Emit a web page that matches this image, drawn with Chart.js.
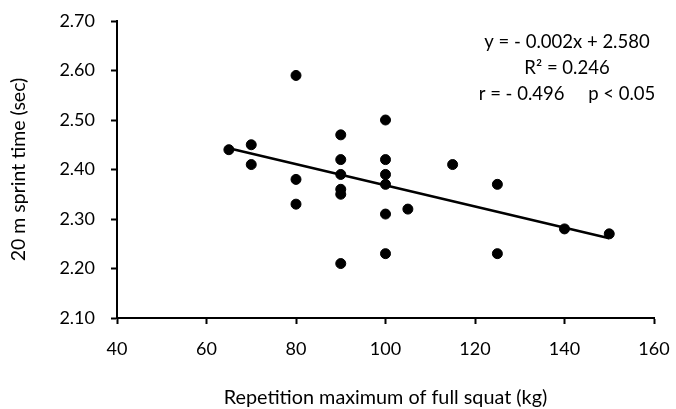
<!DOCTYPE html>
<html>
<head>
<meta charset="utf-8">
<script src="https://cdn.jsdelivr.net/npm/chart.js@4"></script>
<style>
    html, body { margin: 0; padding: 0; background: #fff; }
    #wrap { width: 676px; height: 409px; position: relative; }
</style>
</head>
<body>
<div id="wrap"><canvas id="sprintChart"></canvas></div>
<script>
// Squat 1RM (kg) vs 20 m sprint time (sec)
const squatKg = [65, 70, 70, 80, 80, 80, 90, 90, 90, 90, 90, 90, 100, 100, 100, 100, 100, 100, 105, 115, 125, 125, 140, 150];
const sprintSec = [2.44, 2.45, 2.41, 2.59, 2.38, 2.33, 2.47, 2.42, 2.39, 2.36, 2.35, 2.21, 2.50, 2.42, 2.39, 2.37, 2.31, 2.23, 2.32, 2.41, 2.37, 2.23, 2.28, 2.27];

// trend line end points as drawn
const trendX = [65, 150];
const trendY = [2.443, 2.261];

const xTicks = [40, 60, 80, 100, 120, 140, 160];
const yTicks = [2.10, 2.20, 2.30, 2.40, 2.50, 2.60, 2.70];

const statLines = ['y = - 0.002x + 2.580', 'R\u00B2 = 0.246', 'r = - 0.496     p < 0.05'];

const FONT = 'Lato, "Open Sans", sans-serif';

const statsText = {
    id: 'statsText',
    afterDraw(chart) {
        const ctx = chart.ctx;
        ctx.save();
        ctx.fillStyle = '#000';
        ctx.font = '18.5px ' + FONT;
        ctx.textAlign = 'center';
        ctx.textBaseline = 'middle';
        statLines.forEach((t, i) => {
            ctx.fillText(t, 567, 42 + i * 26);
        });
        ctx.restore();
    }
};

const ctx = document.getElementById('sprintChart').getContext('2d');
new Chart(ctx, {
    type: 'scatter',
    data: {
        datasets: [{
            label: 'trend',
            type: 'line',
            data: trendX.map((x, i) => ({ x: x, y: trendY[i] })),
            borderColor: '#000',
            borderWidth: 2.5,
            pointRadius: 0,
            fill: false
        }, {
            label: 'subjects',
            data: squatKg.map((x, i) => ({ x: x, y: sprintSec[i] })),
            backgroundColor: '#000',
            borderColor: '#000',
            pointRadius: 5,
            pointHoverRadius: 5
        }]
    },
    options: {
        responsive: true,
        maintainAspectRatio: false,
        animation: false,
        layout: { padding: { top: 21, right: 22, left: 0, bottom: 0 } },
        plugins: {
            legend: { display: false },
            tooltip: { enabled: false }
        },
        scales: {
            x: {
                type: 'linear',
                min: 40,
                max: 160,
                afterBuildTicks: axis => { axis.ticks = xTicks.map(v => ({ value: v })); },
                afterFit: axis => {
                    axis.height = 91;
                    axis.paddingLeft = 0;
                    axis.paddingRight = 0;
                },
                border: { color: '#000', width: 2 },
                grid: { drawOnChartArea: false, tickLength: 6, tickColor: '#000', tickWidth: 2 },
                ticks: { color: '#000', font: { family: FONT, size: 18 }, padding: 14 },
                title: {
                    display: true,
                    text: 'Repetition maximum of full squat (kg)',
                    color: '#000',
                    font: { family: FONT, size: 19.8 },
                    padding: { top: 0, bottom: 0 }
                }
            },
            y: {
                type: 'linear',
                min: 2.1,
                max: 2.7,
                afterBuildTicks: axis => { axis.ticks = yTicks.map(v => ({ value: v })); },
                afterFit: axis => {
                    axis.width = 117;
                    axis.paddingTop = 0;
                    axis.paddingBottom = 0;
                },
                border: { color: '#000', width: 2 },
                grid: { drawOnChartArea: false, tickLength: 6, tickColor: '#000', tickWidth: 2 },
                ticks: {
                    color: '#000',
                    font: { family: FONT, size: 18 },
                    padding: 16,
                    callback: v => v.toFixed(2)
                },
                title: {
                    display: true,
                    text: '20 m sprint time (sec)',
                    color: '#000',
                    font: { family: FONT, size: 19.5 },
                    padding: { top: 7, bottom: 0 }
                }
            }
        }
    },
    plugins: [statsText]
});
</script>
</body>
</html>
